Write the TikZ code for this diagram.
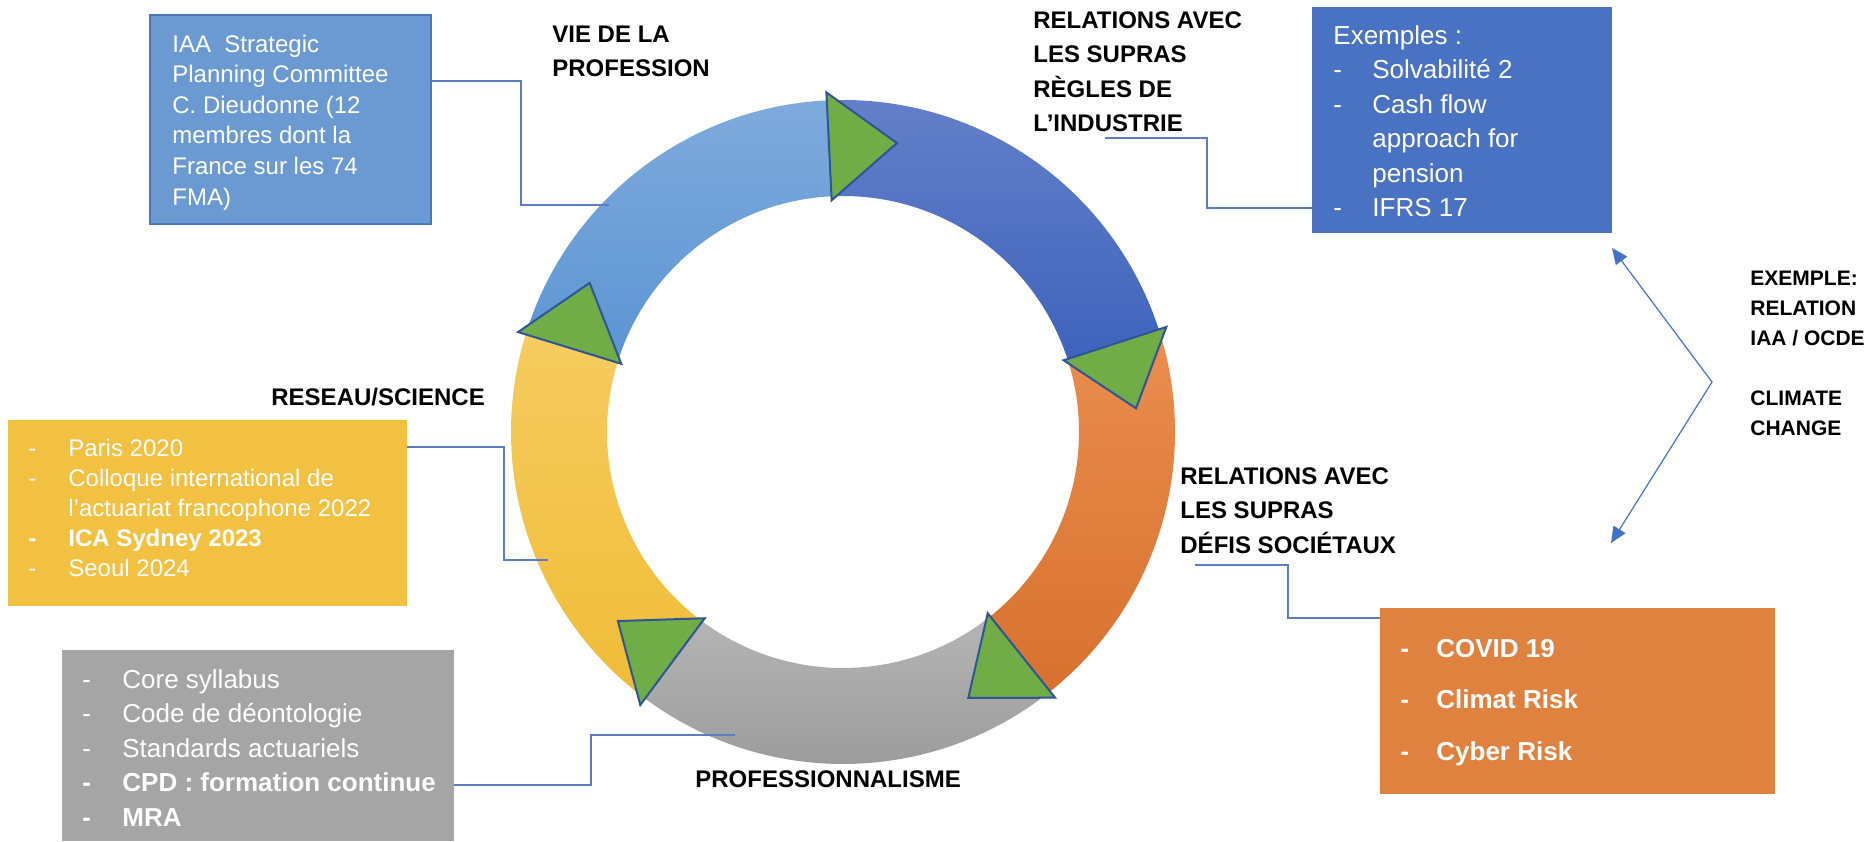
\documentclass[tikz,border=0pt]{standalone}
\usepackage{fontspec}
\setmainfont{Liberation Sans}
\usepackage{tikz}
\usetikzlibrary{arrows.meta}
\usepackage{xcolor}
\definecolor{PanelBlue}{HTML}{6A9AD1}
\definecolor{PanelRim}{HTML}{4777BD}
\definecolor{DeepBlue}{HTML}{4A72C2}
\definecolor{Saffron}{HTML}{F3C141}
\definecolor{Ash}{HTML}{A5A5A5}
\definecolor{Tangerine}{HTML}{DF823F}
\definecolor{LinkBlue}{HTML}{5A7DC6}
\definecolor{PairBlue}{HTML}{4472C4}
\definecolor{LeafGreen}{HTML}{70AD47}
\definecolor{ArrowRim}{HTML}{2E5597}
\definecolor{LiteBlueTop}{HTML}{7FAADC}
\definecolor{LiteBlueBot}{HTML}{5B95D3}
\definecolor{DeepBlueTop}{HTML}{6580C9}
\definecolor{DeepBlueBot}{HTML}{3E63BC}
\definecolor{OrangeTop}{HTML}{EA8E4F}
\definecolor{OrangeBot}{HTML}{D8712E}
\definecolor{GrayTop}{HTML}{B5B5B5}
\definecolor{GrayBot}{HTML}{989898}
\definecolor{YellowTop}{HTML}{F6CC5F}
\definecolor{YellowBot}{HTML}{EFBC36}
\tikzset{%
  info_panel/.style={%
    rectangle,%
    anchor=north west,%
    inner sep=0pt,%
    outer sep=0pt,%
  },
  panel_text/.style={%
    anchor=base west,%
    inner sep=0pt,%
    text=white,%
  },
  ring_label/.style={%
    anchor=base west,%
    inner sep=0pt,%
    font={\fontsize{12}{17.25}\selectfont\bfseries},%
  },
  link_path/.style={%
    draw=LinkBlue,%
    line width=0.6pt,%
  },
  cycle_arrow/.style={%
    fill=LeafGreen,%
    draw=ArrowRim,%
    line width=1pt,%
    line join=miter,%
  },
  pair_arrow/.style={%
    draw=PairBlue,%
    line width=0.6pt,%
    <->,%
    >={Triangle[length=8pt, width=7pt]},%
  },
}

\begin{document}
\begin{tikzpicture}[x=0.5pt, y=0.5pt]

    \useasboundingbox (0,0) rectangle (1874,-841);

    \begin{scope}[shift={(843,-432)}]
      \foreach \from/\to/\topc/\botc in {162.9/92.8/LiteBlueTop/LiteBlueBot, 92.8/18/DeepBlueTop/DeepBlueBot, 18/-51.4/OrangeTop/OrangeBot, -51.4/-126.6/GrayTop/GrayBot, -126.6/-197.1/YellowTop/YellowBot}
        \path [top color=\topc, bottom color=\botc]
          (\from:332) arc [start angle=\from, end angle=\to, radius=332]
          -- (\to:236) arc [start angle=\to, end angle=\from, radius=236]
          -- cycle;
      \foreach \at in {92.8, 18, -51.4, -126.6, 162.9}
        \draw [cycle_arrow, rotate=\at] (232,0) -- (340,0) -- (286,-68) -- cycle;
    \end{scope}

    \coordinate (RingIaa) at (609,-205);
    \coordinate (RingReseau) at (548,-560);
    \coordinate (RingProf) at (735,-735);
    \coordinate (PairTop) at (1612,-248);
    \coordinate (PairElbow) at (1712,-382);
    \coordinate (PairBottom) at (1611,-543);

    \node [info_panel, fill=PanelBlue, draw=PanelRim, line width=1.2pt, minimum width=140.5pt, minimum height=104.5pt] (IaaPanel) at (150,-15) {};
    \node [info_panel, fill=DeepBlue, minimum width=150pt, minimum height=113pt] (ExamplePanel) at (1312,-7) {};
    \node [info_panel, fill=Saffron, minimum width=199.5pt, minimum height=93pt] (ReseauPanel) at (8,-420) {};
    \node [info_panel, fill=Ash, minimum width=196pt, minimum height=95.5pt] (ProfPanel) at (62,-650) {};
    \node [info_panel, fill=Tangerine, minimum width=197.5pt, minimum height=93pt] (SocietalPanel) at (1380,-608) {};

    \node [panel_text, font={\fontsize{12}{15.3}\selectfont}] (IaaText) at ([shift={(22,-37)}]IaaPanel.north west)
      {\begin{tabular}[t]{@{}l@{}}IAA\ \ Strategic\\ Planning Committee\\ C. Dieudonne (12\\ membres dont la\\ France sur les 74\\ FMA)\end{tabular}};
    \node [panel_text, font={\fontsize{13}{17.25}\selectfont}] (ExampleText) at ([shift={(21,-37)}]ExamplePanel.north west)
      {\begin{tabular}[t]{@{}p{19.5pt}@{}l@{}}\multicolumn{2}{@{}l@{}}{Exemples :}\\ - & Solvabilité 2\\ - & Cash flow\\ & approach for\\ & pension\\ - & IFRS 17\end{tabular}};
    \node [panel_text, font={\fontsize{12}{15}\selectfont}] (ReseauText) at ([shift={(20,-36)}]ReseauPanel.north west)
      {\begin{tabular}[t]{@{}p{20pt}@{}l@{}}- & Paris 2020\\ - & Colloque international de\\ & l’actuariat francophone 2022\\ \textbf{-} & \textbf{ICA Sydney 2023}\\ - & Seoul 2024\end{tabular}};
    \node [panel_text, font={\fontsize{13}{17.25}\selectfont}] (ProfText) at ([shift={(20,-38)}]ProfPanel.north west)
      {\begin{tabular}[t]{@{}p{20pt}@{}l@{}}- & Core syllabus\\ - & Code de déontologie\\ - & Standards actuariels\\ \textbf{-} & \textbf{CPD : formation continue}\\ \textbf{-} & \textbf{MRA}\end{tabular}};
    \node [panel_text, font={\fontsize{13}{25.75}\selectfont\bfseries}] (SocietalText) at ([shift={(20,-49)}]SocietalPanel.north west)
      {\begin{tabular}[t]{@{}p{18pt}@{}l@{}}- & COVID 19\\ - & Climat Risk\\ - & Cyber Risk\end{tabular}};

    \node [ring_label] (VieLabel) at (552,-42)
      {\begin{tabular}[t]{@{}l@{}}VIE DE LA\\ PROFESSION\end{tabular}};
    \node [ring_label] (ReglesLabel) at (1033,-28)
      {\begin{tabular}[t]{@{}l@{}}RELATIONS AVEC\\ LES SUPRAS\\ RÈGLES DE\\ L’INDUSTRIE\end{tabular}};
    \node [ring_label] (ReseauLabel) at (271,-405) {RESEAU/SCIENCE};
    \node [ring_label] (SocietalLabel) at (1180,-484)
      {\begin{tabular}[t]{@{}l@{}}RELATIONS AVEC\\ LES SUPRAS\\ DÉFIS SOCIÉTAUX\end{tabular}};
    \node [ring_label] (ProfLabel) at (695,-787) {PROFESSIONNALISME};
    \node [ring_label, font={\fontsize{10.5}{15}\selectfont\bfseries}] (PairLabel) at (1750,-285)
      {\begin{tabular}[t]{@{}l@{}}EXEMPLE:\\ RELATION\\ IAA / OCDE\\ \\ CLIMATE\\ CHANGE\end{tabular}};

    \draw [link_path]
      ([shift={(0,-66)}]IaaPanel.north east)
      --
      ++(90,0)
      |-
      (RingIaa);
    \draw [link_path]
      ([shift={(72,-110)}]ReglesLabel.base west)
      --
      ++(102,0)
      |-
      ([shift={(0,-201)}]ExamplePanel.north west);
    \draw [link_path]
      ([shift={(0,-27)}]ReseauPanel.north east)
      --
      ++(97,0)
      |-
      (RingReseau);
    \draw [link_path]
      ([shift={(0,-135)}]ProfPanel.north east)
      --
      ++(137,0)
      |-
      (RingProf);
    \draw [link_path]
      ([shift={(15,-81)}]SocietalLabel.base west)
      --
      ++(93,0)
      |-
      ([shift={(0,-10)}]SocietalPanel.north west);
    \draw [pair_arrow]
      (PairTop)
      --
      (PairElbow)
      --
      (PairBottom);
  \end{tikzpicture}
\end{document}
